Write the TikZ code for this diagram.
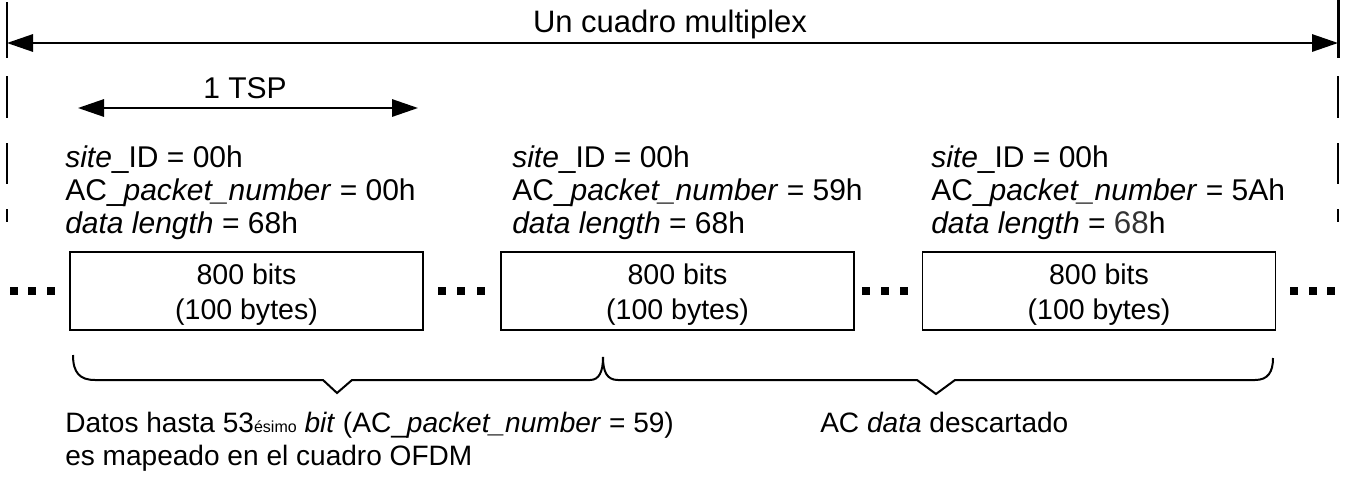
\documentclass[tikz,border=0pt]{standalone}
\usepackage{fontspec}
\setmainfont{Liberation Sans}
\usetikzlibrary{arrows.meta}
\begin{document}
\begin{tikzpicture}[x=0.75pt,y=-0.75pt,
  rule/.style={line width=1.5pt},
  dimarrow/.style={line width=1.5pt,{Triangle[length=19.5pt,width=13pt]}-{Triangle[length=19.5pt,width=13pt]}},
  info/.style={anchor=north west,align=left,inner sep=0pt,font=\fontsize{22.5}{24.75}\selectfont},
  title/.style={anchor=base,inner sep=0pt,font=\fontsize{23.25}{26}\selectfont},
  bytebox/.style={draw,line width=1.2pt,minimum width=264.75pt,minimum height=58.5pt,inner sep=0pt},
  boxtext/.style={inner sep=0pt,align=center,font=\fontsize{21.4}{26.25}\selectfont},
  note/.style={anchor=north west,align=left,inner sep=0pt,font=\fontsize{21.05}{24.75}\selectfont},
  dot/.style={fill=black},
  brace/.style={line width=1.5pt,line join=miter}
]
\useasboundingbox (0,0) rectangle (1346,479);

% vertical boundary lines
\foreach \xx in {7,1338}{
  \draw[rule] (\xx,2) -- (\xx,58);
  \draw[rule] (\xx,76) -- (\xx,118);
  \draw[rule] (\xx,143) -- (\xx,184);
  \draw[rule] (\xx,209) -- (\xx,222);
}
\draw[line width=2.2pt] (1338.5,0) -- (1338.5,58);

% top dimension arrow
\coordinate (fl) at (7,43);
\coordinate (fr) at (1338,43);
\draw[dimarrow] (fl) -- (fr);
\node[title] (tt) at (670,32) {Un cuadro multiplex};

% TSP arrow
\coordinate (tl) at (78,108);
\coordinate (tr) at (418,108);
\draw[dimarrow] (tl) -- (tr);
\node[title,font=\fontsize{22.5}{26}\selectfont] (tsp) at (245,98) {1 TSP};

% info blocks
\node[info] (i1) at (65,145) {\textit{site}\_ID = 00h\\AC\_\textit{packet\_number} = 00h\\\textit{data length} = 68h};
\node[info] (i2) at (512,145) {\textit{site}\_ID = 00h\\AC\_\textit{packet\_number} = 59h\\\textit{data length} = 68h};
\node[info] (i3) at (931,145) {\textit{site}\_ID = 00h\\AC\_\textit{packet\_number} = 5Ah\\\textit{data length} = {\color{black!80}\fontsize{23.5}{24.75}\selectfont 68}h};

% boxes
\node[bytebox] (b1) at (246.5,291) {};
\node[bytebox] (b2) at (677.5,291) {};
\node[bytebox] (b3) at (1099,291) {};
\node[boxtext] (t1) at (246.5,295) {800 bits\\(100 bytes)};
\node[boxtext] (t2) at (677.5,295) {800 bits\\(100 bytes)};
\node[boxtext] (t3) at (1099,295) {800 bits\\(100 bytes)};

% dots
\foreach \cx in {13.5,32,50.5, 442,461,481, 866,885,904, 1294,1312.5,1331}{
  \fill[dot] (\cx-4,287) rectangle (\cx+4,295);
}

% braces
\draw[brace] (73,355) .. controls (73,373) and (80,380) .. (95,380)
  -- (323,380) -- (337,393) -- (352,380) -- (590,380)
  .. controls (599,380) and (603,372) .. (603,357);
\draw[brace] (603,357) .. controls (603,372) and (607,380) .. (618,380)
  -- (917,380) -- (936,394) -- (955,380) -- (1255,380)
  .. controls (1268,380) and (1273,372) .. (1273,358);

% bottom notes
\node[note] (n1) at (65,412) {Datos hasta 53{\fontsize{12}{14}\selectfont ésimo} \textit{bit} (AC\_\textit{packet\_number} = 59)\\es mapeado en el cuadro OFDM};
\node[note] (n2) at (820,412) {AC \textit{data} descartado};
\end{tikzpicture}
\end{document}
